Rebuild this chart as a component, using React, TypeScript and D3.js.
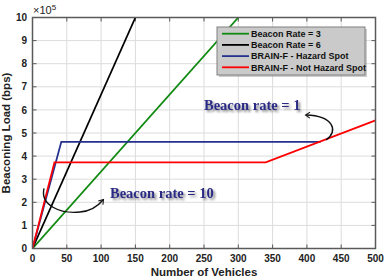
import React from "react";
import * as d3 from "d3";

const xTicks = [0, 50, 100, 150, 200, 250, 300, 350, 400, 450, 500];
const yTicks = [0, 1, 2, 3, 4, 5, 6, 7, 8, 9, 10];

const rate3X = [0, 300];
const rate3Y = [0, 10];
const rate6X = [0, 150];
const rate6Y = [0, 10];
const hazardX = [0, 42, 420];
const hazardY = [0, 4.62, 4.62];
const notHazardX = [0, 32, 340, 500];
const notHazardY = [0, 3.73, 3.73, 5.55];

const seriesNames = ["Beacon Rate = 3", "Beacon Rate = 6", "BRAIN-F - Hazard Spot", "BRAIN-F - Not Hazard Spot"];
const seriesColors = ["#118a11", "#000000", "#25318f", "#ff0000"];

// annotation anchors in data units
const arrow1 = [[428, 4.7], [447, 5.1], [438, 5.74], [399, 5.78]];
const arrow2 = [[16.8, 2.6], [10.9, 1.88], [40.1, 1.49], [69.2, 1.58], [86.7, 1.62], [95.5, 1.84], [102.8, 2.1]];
const label1 = { text: "Beacon rate = 1", x: 250, y: 6.0 };
const label2 = { text: "Beacon rate = 10", x: 113, y: 2.19 };

const W = 386, H = 280;
const M = { left: 32.5, right: 375.5, top: 17.5, bottom: 248.5 };

export default function App() {
  const x = d3.scaleLinear().domain([0, 500]).range([M.left, M.right]);
  const y = d3.scaleLinear().domain([0, 10]).range([M.bottom, M.top]);
  const line = d3.line<[number, number]>().x(d => x(d[0])).y(d => y(d[1]));
  const zip = (a: number[], b: number[]) => a.map((v, i) => [v, b[i]] as [number, number]);
  const series = [zip(rate3X, rate3Y), zip(rate6X, rate6Y), zip(hazardX, hazardY), zip(notHazardX, notHazardY)];

  const p = (pt: number[]) => `${x(pt[0])},${y(pt[1])}`;
  const a1 = `M${p(arrow1[0])} C${p(arrow1[1])} ${p(arrow1[2])} ${p(arrow1[3])}`;
  const a2 = `M${p(arrow2[0])} C${p(arrow2[1])} ${p(arrow2[2])} ${p(arrow2[3])} C${p(arrow2[4])} ${p(arrow2[5])} ${p(arrow2[6])}`;

  const axisFont = "'Liberation Sans', Arial, sans-serif";
  const serif = "'Liberation Serif', 'Times New Roman', serif";
  const frame = "#5a5a5a";

  return (
    <svg width={W} height={H} style={{ position: "absolute", left: 0, top: 0 }}>
      <defs>
        <marker id="ah" viewBox="-6 -5 12 10" markerWidth="9" markerHeight="8" refX="0" refY="0" orient="auto" markerUnits="userSpaceOnUse">
          <path d="M-5,-4 L1,0 L-5,4" fill="none" stroke="#111" strokeWidth="1.4" />
        </marker>
        <filter id="sh" x="-10%" y="-30%" width="130%" height="180%">
          <feGaussianBlur in="SourceAlpha" stdDeviation="1.2" />
          <feOffset dx="2" dy="2" result="b" />
          <feFlood floodColor="#000" floodOpacity="0.45" />
          <feComposite in2="b" operator="in" />
          <feMerge>
            <feMergeNode />
            <feMergeNode in="SourceGraphic" />
          </feMerge>
        </filter>
        <clipPath id="clip">
          <rect x={M.left} y={M.top} width={M.right - M.left} height={M.bottom - M.top} />
        </clipPath>
      </defs>
      <rect x={0} y={0} width={W} height={H} fill="#fff" />
      {/* grid */}
      {xTicks.map(t => (
        <line key={"gx" + t} x1={x(t)} x2={x(t)} y1={M.top} y2={M.bottom} stroke="#dcdcdc" strokeWidth={1} />
      ))}
      {yTicks.map(t => (
        <line key={"gy" + t} x1={M.left} x2={M.right} y1={y(t)} y2={y(t)} stroke="#dcdcdc" strokeWidth={1} />
      ))}
      {/* ticks inside */}
      {xTicks.map(t => (
        <g key={"tx" + t}>
          <line x1={x(t)} x2={x(t)} y1={M.bottom} y2={M.bottom - 4} stroke={frame} />
          <line x1={x(t)} x2={x(t)} y1={M.top} y2={M.top + 4} stroke={frame} />
          <text x={x(t)} y={262} textAnchor="middle" fontFamily={axisFont} fontWeight="bold" fontSize={10} fill="#222">{t}</text>
        </g>
      ))}
      {yTicks.map(t => (
        <g key={"ty" + t}>
          <line x1={M.left} x2={M.left + 4} y1={y(t)} y2={y(t)} stroke={frame} />
          <line x1={M.right} x2={M.right - 4} y1={y(t)} y2={y(t)} stroke={frame} />
          <text x={27} y={y(t) + 3.6} textAnchor="end" fontFamily={axisFont} fontWeight="bold" fontSize={10} fill="#222">{t}</text>
        </g>
      ))}
      {/* series */}
      <g clipPath="url(#clip)">
        {series.map((s, i) => (
          <path key={i} d={line(s) || ""} fill="none" stroke={seriesColors[i]} strokeWidth={1.8} />
        ))}
      </g>
      {/* frame */}
      <rect x={M.left} y={M.top} width={M.right - M.left} height={M.bottom - M.top} fill="none" stroke={frame} strokeWidth={1.5} />
      {/* exponent */}
      <text x={33} y={14} fontFamily={axisFont} fontSize={11} fill="#222">
        ×10<tspan dy={-4} fontSize={8}>5</tspan>
      </text>
      {/* axis titles */}
      <text x={(M.left + M.right) / 2} y={276} textAnchor="middle" fontFamily={axisFont} fontWeight="bold" fontSize={11.5} fill="#222">Number of Vehicles</text>
      <text transform={`translate(10,${(M.top + M.bottom) / 2}) rotate(-90)`} textAnchor="middle" fontFamily={axisFont} fontWeight="bold" fontSize={11.5} fill="#222">Beaconing Load (bps)</text>
      {/* legend */}
      <rect x={219} y={29} width={148} height={48} fill="#999" opacity={0.5} />
      <rect x={217} y={27} width={148} height={48} fill="#cacaca" stroke="#808080" strokeWidth={1} />
      {seriesNames.map((n, i) => (
        <g key={n}>
          <line x1={222} x2={249} y1={33.7 + i * 11.2} y2={33.7 + i * 11.2} stroke={seriesColors[i]} strokeWidth={1.8} />
          <text x={251} y={33.7 + i * 11.2 + 3.3} fontFamily={axisFont} fontWeight="bold" fontSize={9} fill="#111">{n}</text>
        </g>
      ))}
      {/* annotations */}
      <path d={a1} fill="none" stroke="#111" strokeWidth={1.4} markerEnd="url(#ah)" />
      <path d={a2} fill="none" stroke="#111" strokeWidth={1.4} markerEnd="url(#ah)" />
      <text x={x(label1.x)} y={y(label1.y)} fontFamily={serif} fontWeight="bold" fontSize={14.5} fill="#2b2b85" filter="url(#sh)">{label1.text}</text>
      <text x={x(label2.x)} y={y(label2.y)} fontFamily={serif} fontWeight="bold" fontSize={14.5} fill="#2b2b85" filter="url(#sh)">{label2.text}</text>
    </svg>
  );
}
